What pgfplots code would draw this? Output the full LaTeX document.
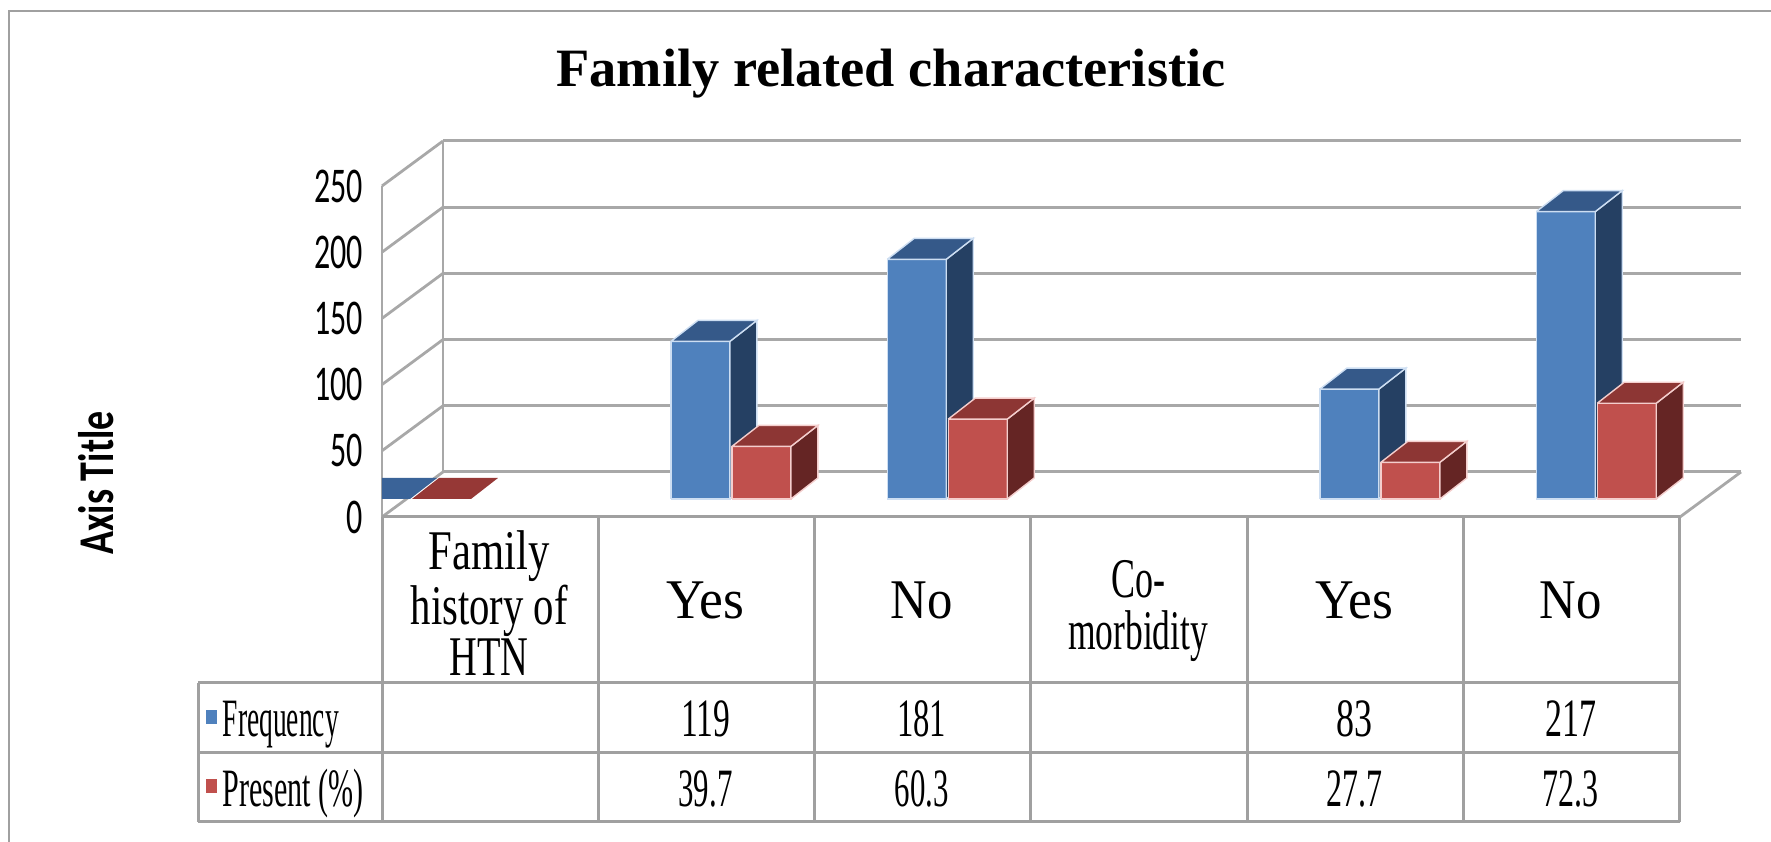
\documentclass[border=0pt]{standalone}
\usepackage{pgfplots}
\pgfplotsset{compat=1.18}
\usepackage{graphicx}
\usepackage{fontspec}
\setmainfont{Liberation Serif}
\newfontfamily\calibri{Carlito}

\definecolor{bfront}{RGB}{79,129,189}
\definecolor{bside}{RGB}{37,64,99}
\definecolor{btop}{RGB}{53,89,137}
\definecolor{bedge}{RGB}{205,222,242}
\definecolor{bflat}{RGB}{58,99,152}
\definecolor{rfront}{RGB}{192,80,77}
\definecolor{rside}{RGB}{101,37,36}
\definecolor{rtop}{RGB}{141,54,52}
\definecolor{redge}{RGB}{244,206,205}
\definecolor{rflat}{RGB}{150,56,54}
\definecolor{gridc}{RGB}{168,168,168}
\definecolor{tabc}{RGB}{160,160,160}

\newlength\pxu \setlength\pxu{0.25pt}
\newcommand\fw[2]{\resizebox{#1\pxu}{\height}{#2}}
\newcommand\tl[1]{\scalebox{0.64}[1]{#1}}

\def\bw{0.2727}\def\ddx{0.1248}\def\ddy{15.86}
% #1 category, #2 value, #3 left offset, #4 colour prefix
\newcommand\tdbar[4]{%
  \pgfmathsetmacro\xa{#1+#3}%
  \pgfmathsetmacro\xb{\xa+\bw}%
  \pgfmathsetmacro\xc{\xb+\ddx}%
  \pgfmathsetmacro\xd{\xa+\ddx}%
  \pgfmathsetmacro\yt{#2+\ddy}%
  \addplot[fill=#4front, draw=#4edge, line width=0.35pt] coordinates {(\xa,0) (\xb,0) (\xb,#2) (\xa,#2) (\xa,0)};
  \addplot[fill=#4side, draw=#4edge, line width=0.35pt] coordinates {(\xb,0) (\xc,\ddy) (\xc,\yt) (\xb,#2) (\xb,0)};
  \addplot[fill=#4top, draw=#4edge, line width=0.35pt] coordinates {(\xa,#2) (\xb,#2) (\xc,\yt) (\xd,\yt) (\xa,#2)};
}

\begin{document}
\begin{tikzpicture}
\useasboundingbox (0,0) rectangle (442.75pt,210.5pt);

% back wall with gridlines
\begin{axis}[at={(110.75pt,92.5pt)}, anchor=south west, scale only axis,
  width=324.5pt, height=82.75pt, xmin=0, xmax=1, ymin=0, ymax=250,
  axis line style={draw=none}, xtick=\empty, ytick={0,50,...,250}, yticklabels={},
  major tick length=0pt, ymajorgrids, grid style={gridc, line width=0.75pt}]
\addplot[draw=none] coordinates {(0,0)};
\end{axis}

% front plane: tick labels
\begin{axis}[at={(95.5pt,81.25pt)}, anchor=south west, scale only axis,
  width=324.5pt, height=82.75pt, xmin=0, xmax=1, ymin=0, ymax=250,
  axis line style={draw=none}, xtick=\empty, ytick={0,50,...,250},
  yticklabels={\tl{0},\tl{50},\tl{100},\tl{150},\tl{200},\tl{250}},
  major tick length=0pt,
  yticklabel style={anchor=east, inner sep=0pt, xshift=-4.5pt, font=\calibri\fontsize{12.5}{12.5}\selectfont}]
\addplot[draw=none] coordinates {(0,0)};
\end{axis}

\begin{scope}[shift={(0pt,210.5pt)}, x=0.25pt, y=-0.25pt]
  % outer frame
  \draw[tabc, line width=0.7pt] (9,850) -- (9,11) -- (1780,11);
  % left wall
  \foreach \v in {0,50,...,250}
    \draw[gridc, line width=0.7pt] (382,{517-1.324*\v}) -- (443,{472-1.324*\v});
  \draw[gridc, line width=0.7pt] (382,186) -- (382,517);
  \draw[gridc, line width=0.7pt] (443,141) -- (443,472);
  \draw[gridc, line width=0.7pt] (1680,517) -- (1741,472);
  % table
  \draw[tabc, line width=0.75pt] (382,517) -- (1680,517);
  \draw[tabc, line width=0.75pt] (198,683) -- (1680,683);
  \draw[tabc, line width=0.75pt] (198,753) -- (1680,753);
  \draw[tabc, line width=0.75pt] (198,822) -- (1680,822);
  \draw[tabc, line width=0.75pt] (198,683) -- (198,822);
  \foreach \k in {0,...,6}
    \draw[tabc, line width=0.75pt] ({382+216.33*\k},517) -- ({382+216.33*\k},822);
\end{scope}

% bars
\begin{axis}[at={(101.6pt,85.75pt)}, anchor=south west, scale only axis,
  width=324.5pt, height=82.75pt, xmin=-0.5, xmax=5.5, ymin=0, ymax=250,
  hide axis, clip=false]
% flat (zero) bars of the first category
\addplot[fill=bflat, draw=none] coordinates {(-0.6128,0) (-0.4833,0) (-0.3585,15.86) (-0.6128,15.86) (-0.6128,0)};
\addplot[fill=rflat, draw=none] coordinates {(-0.4741,0) (-0.2014,0) (-0.0766,15.86) (-0.3493,15.86) (-0.4741,0)};
% Frequency (blue) and Present (red)
\tdbar{1}{119}{-0.2774}{b}
\tdbar{1}{39.7}{0.0046}{r}
\tdbar{2}{181}{-0.2774}{b}
\tdbar{2}{60.3}{0.0046}{r}
\tdbar{4}{83}{-0.2774}{b}
\tdbar{4}{27.7}{0.0046}{r}
\tdbar{5}{217}{-0.2774}{b}
\tdbar{5}{72.3}{0.0046}{r}
\end{axis}

\begin{scope}[shift={(0pt,210.5pt)}, x=0.25pt, y=-0.25pt]
  \node[anchor=base, inner sep=0pt, font=\bfseries\fontsize{13.5}{13.5}\selectfont] at (891,87) {\fw{669}{Family related characteristic}};
  \node[rotate=90, inner sep=0pt, font=\calibri\bfseries\fontsize{12.5}{12.5}\selectfont] at (96,483) {\fw{143}{Axis Title}};
  \begin{scope}[every node/.style={inner sep=0pt, font=\fontsize{14}{12.8}\selectfont, align=center}]
    \node at (489.2,603) {\fw{121}{Family}\\\fw{157}{history of}\\\fw{79}{HTN}};
    \node at (705.5,600) {\fw{78}{Yes}};
    \node at (921.8,600) {\fw{62}{No}};
    \node at (1138.2,611) {\fw{54}{Co-}\\\fw{140}{morbidity}};
    \node at (1354.5,600) {\fw{78}{Yes}};
    \node at (1570.8,600) {\fw{62}{No}};
  \end{scope}
  \begin{scope}[every node/.style={inner sep=0pt, anchor=base, font=\fontsize{13.5}{13.5}\selectfont}]
    % legend rows
    \node[anchor=base west] at (222,737) {\fw{116}{Frequency}};
    \node[anchor=base west] at (222,807) {\fw{141}{Present (\%)}};
    \node at (705.5,737) {\fw{49}{119}};
    \node at (921.8,737) {\fw{49}{181}};
    \node at (1354.5,737) {\fw{36}{83}};
    \node at (1570.8,737) {\fw{51}{217}};
    \node at (705.5,807) {\fw{54}{39.7}};
    \node at (921.8,807) {\fw{54}{60.3}};
    \node at (1354.5,807) {\fw{56}{27.7}};
    \node at (1570.8,807) {\fw{56}{72.3}};
  \end{scope}
  \fill[bfront] (206,710) rectangle (217,724);
  \fill[rfront] (206,779) rectangle (217,793);
\end{scope}
\end{tikzpicture}
\end{document}
